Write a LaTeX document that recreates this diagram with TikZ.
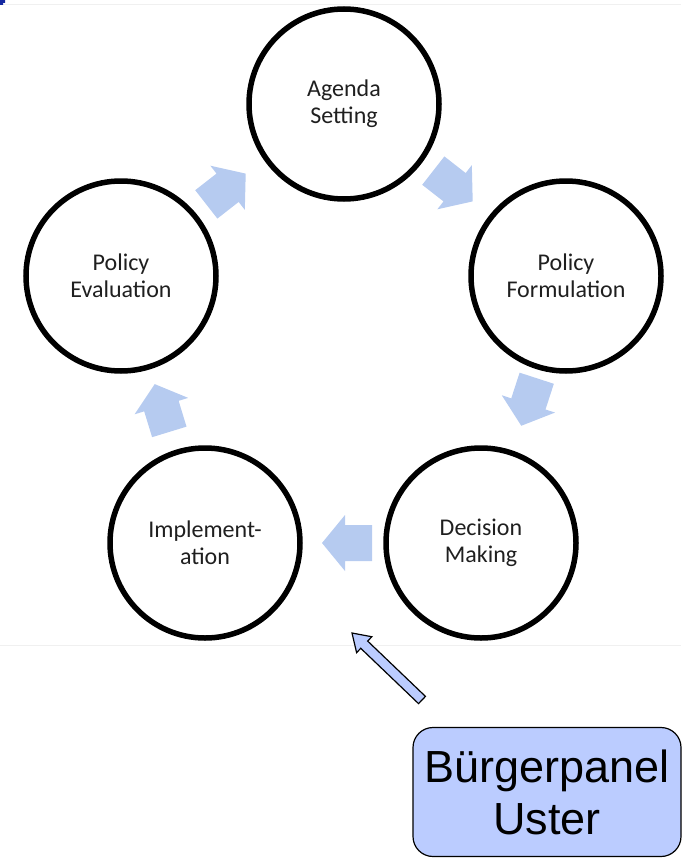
\documentclass[tikz,border=0pt]{standalone}
\usepackage{fontspec}
\setmainfont{Carlito}
\newfontfamily\arialfont{Liberation Sans}
\definecolor{flowblue}{RGB}{182,203,240}
\definecolor{panelblue}{RGB}{187,204,255}
\definecolor{marknavy}{RGB}{20,40,160}
\tikzset{
  stage/.style={circle,draw=black,line width=5.5pt,minimum size=190pt,inner sep=0pt,
    align=center,font=\fontsize{24}{27}\selectfont,text=black!88},
  flowarrow/.style={fill=flowblue,draw=none},
  panel/.style={rectangle,rounded corners=20pt,draw=black,line width=1.2pt,fill=panelblue,
    minimum width=268pt,minimum height=129pt,align=center,
    font=\arialfont\fontsize{45}{52}\selectfont},
  hollow/.style={draw=black,line width=1.2pt,fill=panelblue,line join=miter}
}
\newcommand{\flowarrowat}[3]{%
  \begin{scope}[shift={(#1,#2)},rotate=#3]
    \fill[flowarrow] (-25,-18) -- (2,-18) -- (2,-28) -- (25,0) -- (2,28) -- (2,18) -- (-25,18) -- cycle;
  \end{scope}}
\begin{document}
\begin{tikzpicture}[x=1pt,y=-1pt]
\useasboundingbox (0,0) rectangle (681,859);
% faint screenshot edges
\draw[black!6,line width=0.8pt] (0,4) -- (681,4);
\draw[black!6,line width=0.8pt] (0,645) -- (681,645);
\fill[marknavy] (0,0) -- (5,0) -- (5,3) -- (3,3) -- (3,5) -- (0,5) -- cycle;
% stages
\node[stage] (agenda) at (344,104) {Agenda\\Setting};
\node[stage] (formul) at (566,276) {Policy\\Formulation};
\node[stage] (decis) at (481,543) {Decision\\Making};
\node[stage] (impl) at (205,543) {Implement-\\ation};
\node[stage] (evalu) at (121,276) {Policy\\Evaluation};
% flow arrows
\flowarrowat{226}{189}{38}
\flowarrowat{453}{186}{-38}
\flowarrowat{529}{402}{-108}
\flowarrowat{347}{543}{180}
\flowarrowat{162}{408}{107}
% panel
\node[panel] (panel) at (547,792) {Bürgerpanel\\Uster};
\coordinate (tip) at (352,633);
\coordinate (tail) at (422,700);
\begin{scope}[shift={(tail)},rotate={atan2(67,-70)}]
  \draw[hollow] (0,-5) -- (80,-5) -- (80,-11) -- (96.9,0) -- (80,11) -- (80,5) -- (0,5) -- cycle;
\end{scope}
\end{tikzpicture}
\end{document}
